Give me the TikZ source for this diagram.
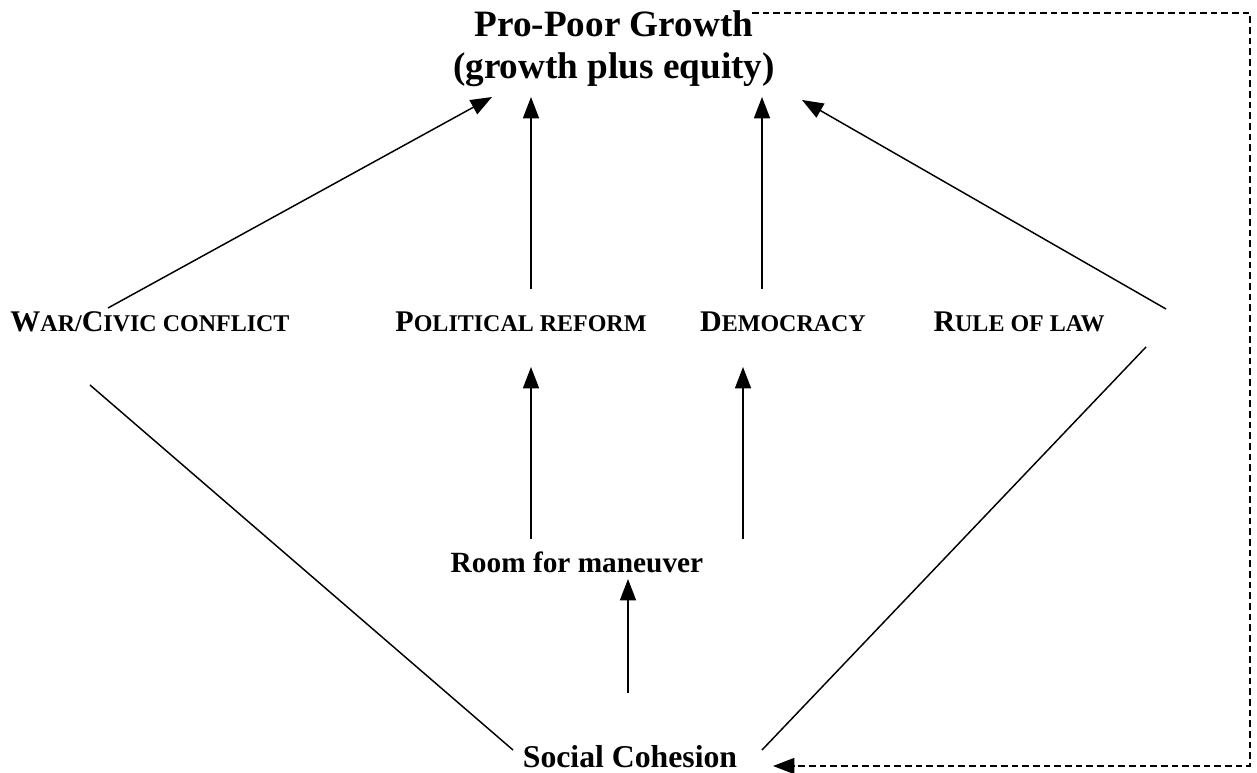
\documentclass[tikz,border=0pt]{standalone}
\usepackage{fontspec}
\setmainfont{Liberation Serif}
\usetikzlibrary{arrows.meta}

\newcommand{\capfirst}[1]{{\fontsize{22.5}{24}\selectfont #1}}

\begin{document}
\begin{tikzpicture}[x=0.75pt,y=-0.75pt,
  headline/.style={font=\bfseries\fontsize{27.9}{31.5}\selectfont,align=center,inner sep=0,anchor=base},
  factor/.style={font=\bfseries\fontsize{18}{20}\selectfont,inner sep=0,anchor=base},
  basis/.style={font=\bfseries\fontsize{22}{24}\selectfont,inner sep=0,anchor=base},
  link/.style={line width=1.1pt},
  push/.style={link,-{Triangle[length=16pt,width=12pt]}}]

\useasboundingbox (0,0) rectangle (1257,773);

\node[headline] (growth) at (614,79) {Pro-Poor Growth\\(growth plus equity)};

\node[factor] (war) at (150,332) {\capfirst{W}AR/\capfirst{C}IVIC CONFLICT};
\node[factor] (reform) at (521,332) {\capfirst{P}OLITICAL REFORM};
\node[factor] (democracy) at (783,332) {\capfirst{D}EMOCRACY};
\node[factor] (law) at (1019,332) {\capfirst{R}ULE OF LAW};

\node[basis] (room) at (577,572) {Room for maneuver};
\node[basis,font=\bfseries\fontsize{23.8}{26}\selectfont] (cohesion) at (630,767) {Social Cohesion};

\draw[push] ([shift={(-42,-24)}]war.base) -- ([shift={(-122,18)}]growth.base);
\draw[push] ([shift={(10,-43)}]reform.base) -- ([shift={(-83,18)}]growth.base);
\draw[push] ([shift={(-21,-43)}]democracy.base) -- ([shift={(148,18)}]growth.base);
\draw[push] ([shift={(147,-23)}]law.base) -- ([shift={(188,21)}]growth.base);

\draw[push] ([shift={(-46,-33)}]room.base) -- ([shift={(10,35)}]reform.base);
\draw[push] ([shift={(166,-33)}]room.base) -- ([shift={(-40,35)}]democracy.base);
\draw[push] ([shift={(-2,-74)}]cohesion.base) -- ([shift={(51,7)}]room.base);

\draw[link] ([shift={(-60,53)}]war.base) -- ([shift={(-117,-17)}]cohesion.base);
\draw[link] ([shift={(127,15)}]law.base) -- ([shift={(132,-17)}]cohesion.base);

\draw[push,dashed,dash pattern=on 5pt off 3pt] ([shift={(138,-66)}]growth.base) -- ++(498,0) |- ([shift={(143,-1)}]cohesion.base);

\end{tikzpicture}
\end{document}
